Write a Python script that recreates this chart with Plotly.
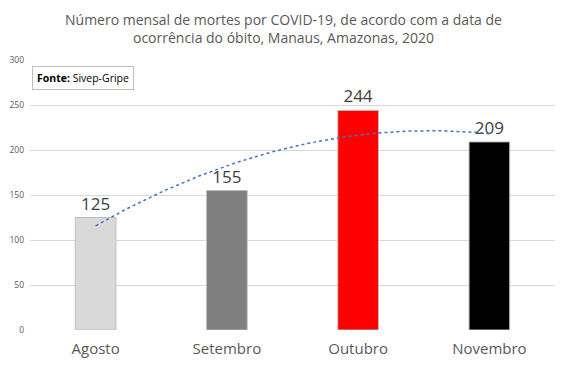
import numpy as np
import plotly.graph_objects as go

categories = ["Agosto", "Setembro", "Outubro", "Novembro"]
deaths = [125, 155, 244, 209]
bar_colors = ["#d9d9d9", "#7f7f7f", "#ff0000", "#000000"]
y_ticks = [0, 50, 100, 150, 200, 250, 300]

xpos = np.arange(len(categories))
coef = np.polyfit(xpos, deaths, 2)
xs = np.linspace(xpos[0], xpos[-1], 100)
ys = np.polyval(coef, xs)

fig = go.Figure()
fig.add_trace(go.Bar(
    x=xpos, y=deaths, width=0.31,
    marker=dict(color=bar_colors, line=dict(color="#bfbfbf", width=1)),
    text=[str(v) for v in deaths], textposition="outside",
    textfont=dict(size=17, color="#404040", family="Open Sans"),
    cliponaxis=False, showlegend=False,
))
fig.add_trace(go.Scatter(
    x=xs, y=ys, mode="lines",
    line=dict(color="#4472c4", width=1.5, dash="dot"),
    showlegend=False, hoverinfo="skip",
))

fig.update_layout(
    width=559, height=360,
    margin=dict(l=22, r=12, t=52, b=38, autoexpand=False),
    paper_bgcolor="white", plot_bgcolor="white",
    bargap=0.69,
    xaxis=dict(
        tickmode="array", tickvals=list(xpos), ticktext=categories,
        range=[-0.5, 3.5], showgrid=False, zeroline=False,
        showline=False, ticks="", automargin=False, ticklabelstandoff=8,
        tickfont=dict(size=15, color="#595959", family="Open Sans"),
    ),
    yaxis=dict(
        range=[0, 300], tickvals=y_ticks, showgrid=True,
        gridcolor="#d9d9d9", gridwidth=1, zeroline=False, showline=False,
        tickfont=dict(size=8.5, color="#595959", family="Open Sans"),
        ticks="", ticklabelstandoff=5, automargin=False,
    ),
)
fig.add_annotation(
    text="Número mensal de mortes por COVID-19, de acordo com a data de<br>ocorrência do óbito, Manaus, Amazonas, 2020",
    xref="paper", yref="paper", x=0.482, y=(330 - 29) / 270,
    xanchor="center", yanchor="middle", showarrow=False,
    font=dict(size=14, color="#595959", family="Open Sans"),
)
fig.add_annotation(
    text="<b>Fonte:</b> Sivep-Gripe", xref="paper", yref="paper",
    x=0.004, y=(330 - 66) / 270, xanchor="left", yanchor="top", showarrow=False,
    font=dict(size=10.5, color="#000000", family="Open Sans"),
    bordercolor="#bfbfbf", borderwidth=1, borderpad=4, bgcolor="white",
)

fig.write_html("out.html")
